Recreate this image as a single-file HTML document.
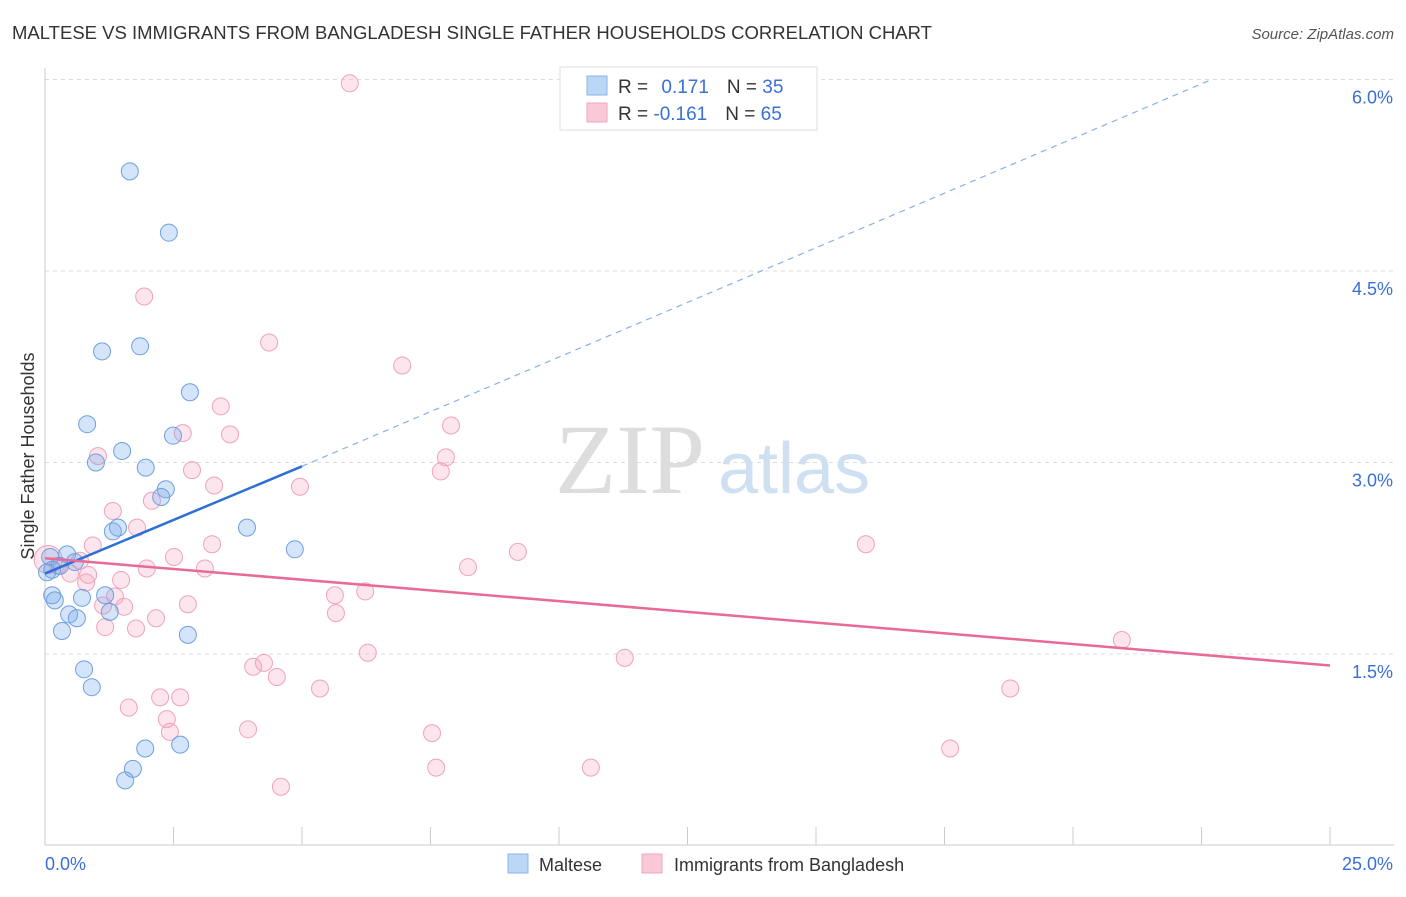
<!DOCTYPE html>
<html><head><meta charset="utf-8"><style>
body{margin:0;background:#fff;font-family:"Liberation Sans",sans-serif;}
</style></head><body>
<svg id="c" width="1406" height="892" xmlns="http://www.w3.org/2000/svg" font-family="Liberation Sans, sans-serif">
<text x="12" y="39" font-size="18.5" fill="#333" textLength="920" lengthAdjust="spacingAndGlyphs">MALTESE VS IMMIGRANTS FROM BANGLADESH SINGLE FATHER HOUSEHOLDS CORRELATION CHART</text>
<text x="1394" y="39" font-size="15" fill="#555" font-style="italic" text-anchor="end">Source: ZipAtlas.com</text>
<text x="0" y="0" transform="translate(34,456) rotate(-90)" font-size="18" fill="#333" text-anchor="middle">Single Father Households</text>
<text x="555" y="493" font-size="100" fill="#ddd" font-family="Liberation Serif, serif">ZIP</text>
<text x="718" y="493" font-size="72" fill="#cfe0f3">atlas</text>
<g id="grid"></g><g id="pts"></g><g id="lines"></g>
<g>
<rect x="560" y="67" width="257" height="63" fill="#fff" stroke="#ddd"/>
<rect x="587" y="76" width="20" height="19" fill="#bcd6f5" stroke="#8ab4ea"/>
<rect x="587" y="103" width="20" height="19" fill="#f9c9d7" stroke="#f0a7bf"/>
<text x="618" y="93" font-size="19" fill="#333">R = <tspan fill="#3a6fd8" dx="8">0.171</tspan><tspan dx="18" fill="#333">N = </tspan><tspan fill="#3a6fd8">35</tspan></text>
<text x="618" y="120" font-size="19" fill="#333">R = <tspan fill="#3a6fd8">-0.161</tspan><tspan dx="18" fill="#333">N = </tspan><tspan fill="#3a6fd8">65</tspan></text>
</g>
<g>
<rect x="508" y="854" width="20" height="19" fill="#bcd6f5" stroke="#8ab4ea"/>
<text x="539" y="871" font-size="18" fill="#333">Maltese</text>
<rect x="642" y="854" width="20" height="19" fill="#f9c9d7" stroke="#f0a7bf"/>
<text x="674" y="871" font-size="18" fill="#333">Immigrants from Bangladesh</text>
</g>
</svg>
<script>
const yTicks=[1.5,3.0,4.5,6.0];
const yTickLabels=["1.5%","3.0%","4.5%","6.0%"];
const xTicks=[0,2.5,5,7.5,10,12.5,15,17.5,20,22.5,25];
const malteseX=[1.65,2.41,1.85,1.11,2.82,0.82,2.49,1.50,0.99,1.96,2.35,2.26,3.93,1.42,1.32,4.86,0.43,0.10,0.58,0.29,0.14,0.04,0.14,0.19,1.17,0.72,1.26,0.47,0.62,0.33,2.78,0.76,0.91,2.63,1.95,1.71,1.56];
const malteseY=[5.28,4.80,3.91,3.87,3.55,3.30,3.21,3.09,3.00,2.96,2.79,2.73,2.49,2.49,2.46,2.32,2.28,2.26,2.22,2.19,2.16,2.14,1.96,1.92,1.96,1.94,1.83,1.81,1.78,1.68,1.65,1.38,1.24,0.79,0.76,0.60,0.51];
const bangX=[5.93,1.93,4.36,6.95,3.42,7.90,2.68,3.60,1.03,7.80,2.86,7.70,3.29,4.96,2.08,1.32,1.79,3.25,0.93,15.97,9.20,2.51,0.68,0.06,0.25,0.49,0.84,1.98,3.11,8.23,1.48,0.80,5.64,6.23,1.36,1.13,1.54,2.78,5.66,2.16,1.17,1.77,20.95,6.28,11.28,4.26,4.05,4.51,5.35,18.78,2.24,2.63,1.63,2.37,2.43,3.95,7.53,17.61,7.61,10.62,4.59];
const bangY=[5.97,4.30,3.94,3.76,3.44,3.29,3.23,3.22,3.05,3.04,2.94,2.93,2.82,2.81,2.70,2.62,2.49,2.36,2.35,2.36,2.30,2.26,2.23,2.24,2.19,2.13,2.12,2.17,2.17,2.18,2.08,2.06,1.96,1.99,1.95,1.88,1.87,1.89,1.82,1.78,1.71,1.70,1.61,1.51,1.47,1.43,1.40,1.32,1.23,1.23,1.16,1.16,1.08,0.99,0.89,0.91,0.88,0.76,0.61,0.61,0.46];
const blueFit=[[0,2.13],[5,2.97],[22.7,6.0]];
const pinkFit=[[0,2.25],[25,1.41]];
const X=v=>45+v/25*1285, Y=v=>845.5-v*127.67;
const NS="http://www.w3.org/2000/svg";
function mk(t,a,p){const e=document.createElementNS(NS,t);for(const k in a)e.setAttribute(k,a[k]);p.appendChild(e);return e;}
const g=document.getElementById('grid');
yTicks.forEach((t,i)=>{
 const l=mk('line',{x1:45,x2:1394,y1:Y(t),y2:Y(t),stroke:'#ddd','stroke-dasharray':'4,4'},g);
 
 
 const tx=mk('text',{x:1393,y:Y(t)+24,'font-size':18,fill:'#3a6fd8','text-anchor':'end'},g);
 tx.textContent=yTickLabels[i];
 
 
});
const ax=mk('line',{x1:45,x2:1394,y1:845,y2:845,stroke:'#ccc'},g);


const ay=mk('line',{x1:45,x2:45,y1:68,y2:845,stroke:'#ccc'},g);


xTicks.forEach(t=>{
 const l=mk('line',{x1:X(t),x2:X(t),y1:827,y2:845,stroke:'#ccc'},g);
 
 
});
const x0=mk('text',{x:45,y:870,'font-size':18,fill:'#3a6fd8'},g);x0.textContent='0.0%';


const x1=mk('text',{x:1393,y:870,'font-size':18,fill:'#3a6fd8','text-anchor':'end'},g);x1.textContent='25.0%';


const p=document.getElementById('pts');
bangX.forEach((v,i)=>{
 const c=mk('circle',{cx:X(v),cy:Y(bangY[i]),r:i==23?14:8.5,fill:'rgba(244,160,190,0.28)',stroke:'#eea3bc','stroke-width':1},p);
 
 
});
malteseX.forEach((v,i)=>{
 const c=mk('circle',{cx:X(v),cy:Y(malteseY[i]),r:8.5,fill:'rgba(120,170,235,0.32)',stroke:'#6f9fe0','stroke-width':1},p);
 
 
});
const L=document.getElementById('lines');
const b1=mk('line',{x1:X(blueFit[0][0]),y1:Y(blueFit[0][1]),x2:X(blueFit[1][0]),y2:Y(blueFit[1][1]),stroke:'#2e6fd6','stroke-width':2.5},L);


const b2=mk('line',{x1:X(blueFit[1][0]),y1:Y(blueFit[1][1]),x2:X(blueFit[2][0]),y2:Y(blueFit[2][1]),stroke:'#8ab0e6','stroke-width':1.2,'stroke-dasharray':'6,5'},L);


const pl=mk('line',{x1:X(pinkFit[0][0]),y1:Y(pinkFit[0][1]),x2:X(pinkFit[1][0]),y2:Y(pinkFit[1][1]),stroke:'#e86a98','stroke-width':2.5},L);


</script>
</body></html>
